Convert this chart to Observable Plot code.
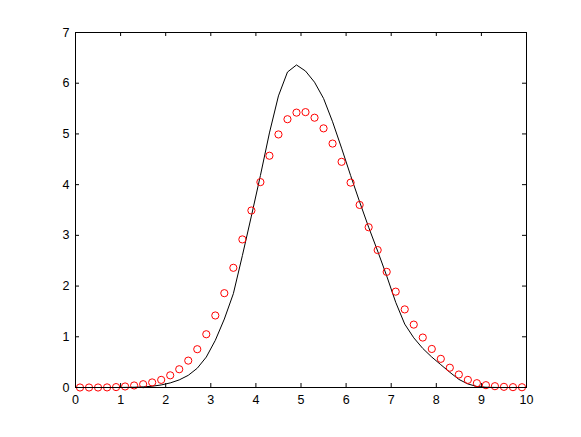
<!DOCTYPE html>
<html>
<head>
<meta charset="utf-8">
<script src="https://cdn.jsdelivr.net/npm/d3@7"></script>
<script src="https://cdn.jsdelivr.net/npm/@observablehq/plot@0.6"></script>
<style>
  html, body { margin: 0; padding: 0; background: #fff; }
  svg { display: block; }
</style>
</head>
<body>
<div id="chart"></div>
<script>
const xValues = [0.1,0.3,0.5,0.7,0.9,1.1,1.3,1.5,1.7,1.9,2.1,2.3,2.5,2.7,2.9,3.1,3.3,3.5,3.7,3.9,
  4.1,4.3,4.5,4.7,4.9,5.1,5.3,5.5,5.7,5.9,6.1,6.3,6.5,6.7,6.9,7.1,7.3,7.5,7.7,7.9,
  8.1,8.3,8.5,8.7,8.9,9.1,9.3,9.5,9.7,9.9];
const circleValues = [0,0,0,0.002,0.008,0.02,0.04,0.065,0.1,0.15,0.24,0.36,0.53,0.755,1.05,1.42,1.86,2.36,2.92,3.49,
  4.05,4.57,4.99,5.29,5.42,5.43,5.32,5.11,4.81,4.45,4.04,3.60,3.16,2.71,2.28,1.89,1.54,1.24,0.985,0.76,
  0.565,0.39,0.256,0.15,0.085,0.046,0.026,0.013,0.007,0.005];
const lineValues = [0,0,0,0,0,0.002,0.005,0.012,0.025,0.05,0.09,0.15,0.24,0.38,0.6,0.93,1.35,1.85,2.6,3.38,
  4.18,5.02,5.75,6.22,6.36,6.24,6.02,5.70,5.24,4.72,4.18,3.66,3.16,2.69,2.2,1.68,1.25,0.98,0.77,0.6,
  0.45,0.3,0.16,0.07,0.02,0.005,0.001,0,0,0];
const xTicks = [0,1,2,3,4,5,6,7,8,9,10];
const yTicks = [0,1,2,3,4,5,6,7];

const points = xValues.map((x, i) => ({x, circle: circleValues[i], line: lineValues[i]}));

const W = 581, H = 437;
const mTop = 32, mBottom = 50, mLeft = 75, mRight = 55;
const innerH = H - mTop - mBottom;
const innerW = W - mLeft - mRight;
const tickLen = 4;
const font = "'Liberation Sans', Arial, Helvetica, sans-serif";

const chart = Plot.plot({
  width: W,
  height: H,
  marginTop: mTop,
  marginBottom: mBottom,
  marginLeft: mLeft,
  marginRight: mRight,
  style: {fontFamily: font, fontSize: "12.5px", color: "#000", background: "#fff"},
  x: {domain: [0, 10]},
  y: {domain: [0, 7]},
  marks: [
    Plot.axisX(xTicks, {anchor: "bottom", tickSize: 0, tickPadding: 8, label: null, fontSize: 12.5, tickFormat: d => String(d)}),
    Plot.axisY(yTicks, {anchor: "left", tickSize: 0, tickPadding: 6, label: null, fontSize: 12.5, tickFormat: d => String(d)}),
    // inward ticks on all four sides
    Plot.tickX(xTicks, {x: d => d, insetTop: innerH - tickLen, stroke: "#000", strokeWidth: 1}),
    Plot.tickX(xTicks, {x: d => d, insetBottom: innerH - tickLen, stroke: "#000", strokeWidth: 1}),
    Plot.tickY(yTicks, {y: d => d, insetRight: innerW - tickLen, stroke: "#000", strokeWidth: 1}),
    Plot.tickY(yTicks, {y: d => d, insetLeft: innerW - tickLen, stroke: "#000", strokeWidth: 1}),
    Plot.line(points, {x: "x", y: "line", stroke: "#000", strokeWidth: 1}),
    Plot.dot(points, {x: "x", y: "circle", r: 3.6, stroke: "#ff0000", fill: "none", strokeWidth: 1}),
    Plot.frame({stroke: "#000", strokeWidth: 1})
  ]
});
document.getElementById("chart").appendChild(chart);
</script>
</body>
</html>
